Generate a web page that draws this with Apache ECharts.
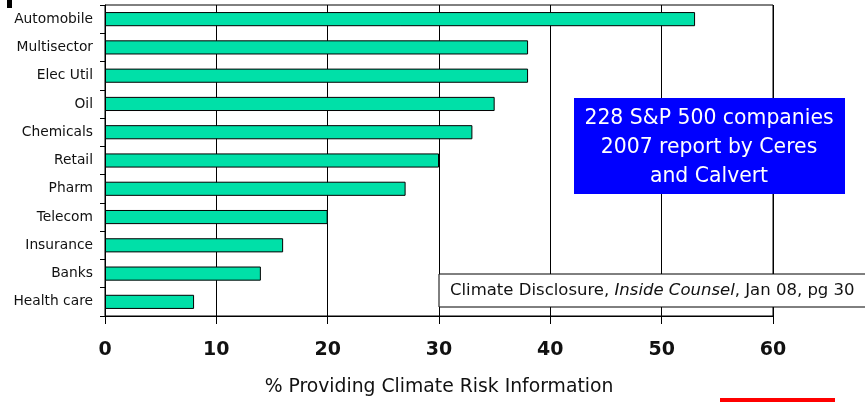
<!DOCTYPE html>
<html>
<head>
<meta charset="utf-8">
<script src="https://cdn.jsdelivr.net/npm/echarts@6/dist/echarts.min.js"></script>
<style>
  html, body { margin: 0; padding: 0; background: #fff; }
  #chart { width: 865px; height: 402px; }
</style>
</head>
<body>
<div id="chart"></div>
<script>
const sectors = ["Automobile", "Multisector", "Elec Util", "Oil", "Chemicals", "Retail",
  "Pharm", "Telecom", "Insurance", "Banks", "Health care"];
const percents = [53, 38, 38, 35, 33, 30, 27, 20, 16, 14, 8];
const xTicks = [0, 10, 20, 30, 40, 50, 60];

const font = "'DejaVu Sans', Verdana, sans-serif";
const chart = echarts.init(document.getElementById("chart"));

chart.setOption({
  animation: false,
  textStyle: { fontFamily: font },
  grid: {
    left: 105, right: 92, top: 5, bottom: 86,
    show: true, borderColor: "#000", borderWidth: 1,
  },
  xAxis: {
    type: "value",
    min: xTicks[0],
    max: xTicks[xTicks.length - 1],
    interval: 10,
    name: "% Providing Climate Risk Information",
    nameLocation: "middle",
    nameGap: 62,
    nameTextStyle: { color: "#111", fontSize: 18.8, fontFamily: font },
    axisLine: { show: true, lineStyle: { color: "#000", width: 1 } },
    axisTick: { show: true, length: 8, lineStyle: { color: "#000" } },
    axisLabel: { color: "#111", fontSize: 19, fontWeight: "bold", margin: 25, fontFamily: font },
    splitLine: { show: true, lineStyle: { color: "#000", width: 1 } },
  },
  yAxis: {
    type: "category",
    data: sectors,
    inverse: true,
    axisLine: { show: true, lineStyle: { color: "#000", width: 1 } },
    axisTick: { show: true, length: 5, lineStyle: { color: "#000" } },
    axisLabel: { color: "#111", fontSize: 13.8, margin: 12, fontFamily: font },
  },
  series: [
    {
      type: "bar",
      data: percents,
      barCategoryGap: "50%",
      itemStyle: { color: "#00E0A8", borderColor: "#000", borderWidth: 1 },
    },
  ],
  graphic: [
    { type: "rect", z: 100, shape: { x: 7, y: 0, width: 5, height: 8 }, style: { fill: "#000" } },
    // blue note box runs past the right edge of the plot
    { type: "rect", z: 100, x: 574, y: 98, shape: { x: 0, y: 0, width: 271, height: 96 }, style: { fill: "#0000FF" } },
    {
      type: "text", z: 101, x: 709, y: 148,
      style: {
        text: "228 S&P 500 companies\n2007 report by Ceres\nand Calvert",
        fill: "#fff", fontSize: 20.4, lineHeight: 29, align: "center", verticalAlign: "middle",
        fontFamily: font,
      },
    },
    { type: "rect", z: 100, x: 439, y: 274, shape: { x: 0, y: 0, width: 440, height: 33 }, style: { fill: "#fff", stroke: "#000", lineWidth: 1 } },
    {
      type: "text", z: 101, x: 450, y: 291,
      style: {
        text: "{n|Climate Disclosure, }{i|Inside Counsel}{n|, Jan 08, pg 30}",
        verticalAlign: "middle",
        rich: {
          n: { fontSize: 16.5, fill: "#111", fontFamily: font },
          i: { fontSize: 16.5, fill: "#111", fontStyle: "italic", fontFamily: font },
        },
      },
    },
    { type: "rect", z: 100, x: 720, y: 398, shape: { x: 0, y: 0, width: 115, height: 4 }, style: { fill: "#FF0000" } },
  ],
});

window.addEventListener("resize", () => chart.resize());
</script>
</body>
</html>
